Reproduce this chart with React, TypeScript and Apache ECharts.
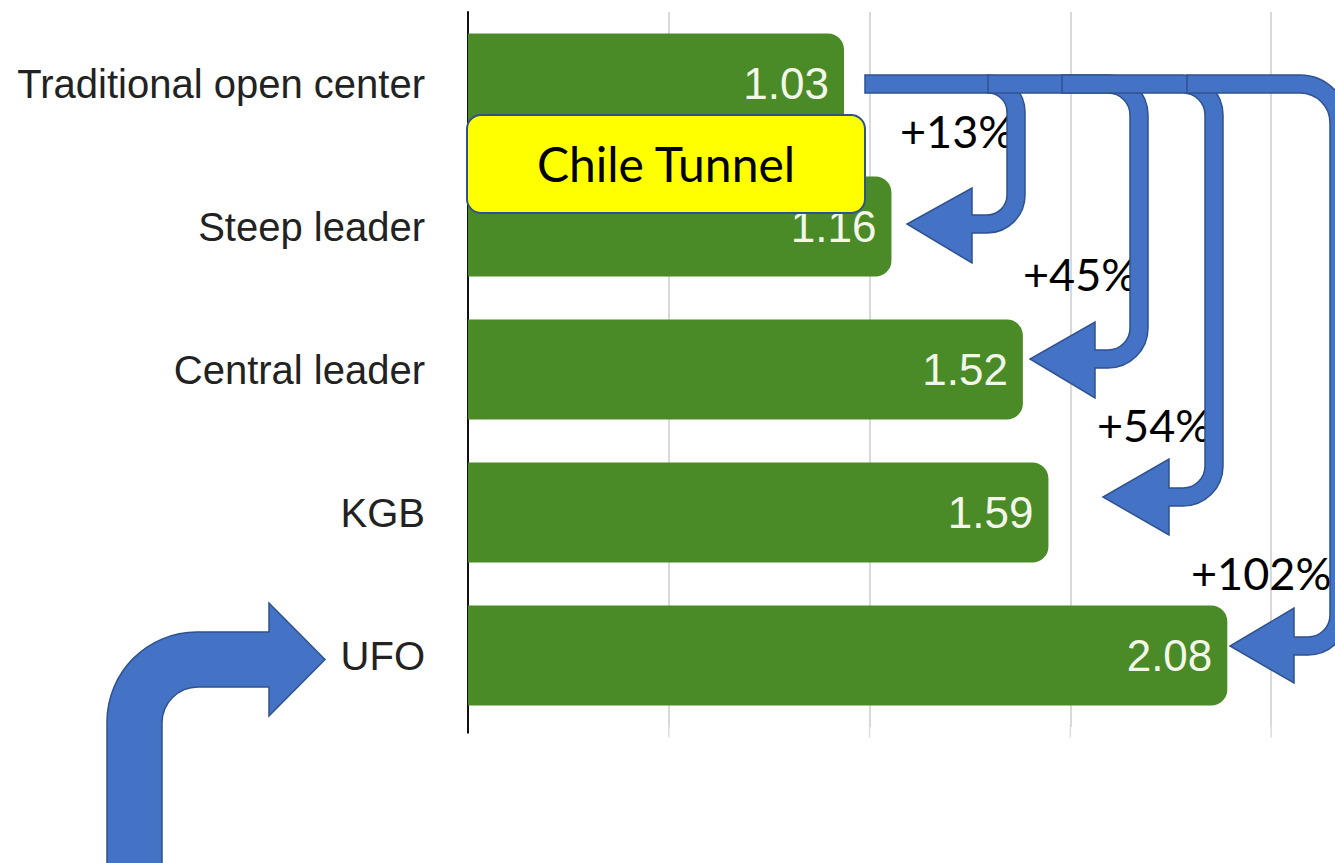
import React, { useEffect, useRef } from "react";
import * as echarts from "echarts";

// ---- data ----
const categories = ["Traditional open center", "Steep leader", "Central leader", "KGB", "UFO"];
const values = [1.03, 1.16, 1.52, 1.59, 2.08];
const changeLabels = ["+13%", "+45%", "+54%", "+102%"];
const calloutText = "Chile Tunnel";
const gridTicks = [0.55, 1.1, 1.65, 2.2];

// ---- annotation geometry (pixels) ----
const SHAFT = 18;
const TOP_Y = 75;
const uArrows = [
  { xs: 865, xo: 1025, Ro: 37, yb: 233, Rb: 38, hx: 972, hy1: 188, hy2: 263, tx: 907 },
  { xs: 988, xo: 1148, Ro: 40, yb: 368, Rb: 40, hx: 1095, hy1: 322, hy2: 398, tx: 1030 },
  { xs: 1062, xo: 1223, Ro: 40, yb: 506, Rb: 40, hx: 1169, hy1: 459, hy2: 535, tx: 1103 },
  { xs: 1187, xo: 1348, Ro: 48, yb: 655, Rb: 40, hx: 1294, hy1: 608, hy2: 683, tx: 1230 },
];
const textPos = [
  [900, 131],
  [1023, 274],
  [1097, 425],
  [1191, 573],
];

const K = 0.5523;
function corner(p0: number[], c: number[], p1: number[]) {
  return `C ${p0[0] + K * (c[0] - p0[0])} ${p0[1] + K * (c[1] - p0[1])} ${p1[0] + K * (c[0] - p1[0])} ${p1[1] + K * (c[1] - p1[1])} ${p1[0]} ${p1[1]}`;
}

function uArrowPath(a: any) {
  const { xs, xo, Ro, yb, Rb, hx, hy1, hy2, tx } = a;
  const t = SHAFT;
  const yT = TOP_Y;
  const xi = xo - t;
  const Ri = Ro - t;
  const Rbi = Rb - t;
  const ybi = yb - t;
  const ty = yb - t / 2;
  return [
    `M ${xs} ${yT}`,
    `L ${xo - Ro} ${yT}`,
    corner([xo - Ro, yT], [xo, yT], [xo, yT + Ro]),
    `L ${xo} ${yb - Rb}`,
    corner([xo, yb - Rb], [xo, yb], [xo - Rb, yb]),
    `L ${hx} ${yb}`,
    `L ${hx} ${hy2}`,
    `L ${tx} ${ty}`,
    `L ${hx} ${hy1}`,
    `L ${hx} ${ybi}`,
    `L ${xi - Rbi} ${ybi}`,
    corner([xi - Rbi, ybi], [xi, ybi], [xi, ybi - Rbi]),
    `L ${xi} ${yT + t + Ri}`,
    corner([xi, yT + t + Ri], [xi, yT + t], [xi - Ri, yT + t]),
    `L ${xs} ${yT + t}`,
    "Z",
  ].join(" ");
}

function bigArrowPath() {
  return [
    "M 107 870",
    "L 107 722",
    corner([107, 722], [107, 632], [197, 632]),
    "L 269 632",
    "L 269 603",
    "L 325 659.5",
    "L 269 716",
    "L 269 687",
    "L 198 687",
    corner([198, 687], [162, 687], [162, 723]),
    "L 162 870",
    "Z",
  ].join(" ");
}

const BLUE = "#4472c4";
const BLUE_EDGE = "#2f528f";
const ANNOT_FONT = "Lato, 'Noto Sans', sans-serif";

export default function App() {
  const ref = useRef<HTMLDivElement>(null);

  useEffect(() => {
    if (!ref.current) return;
    uArrows.forEach((a, i) => {
      echarts.graphic.registerShape("uarrow" + i, echarts.graphic.extendPath(uArrowPath(a), {}));
    });
    echarts.graphic.registerShape("bigarrow", echarts.graphic.extendPath(bigArrowPath(), {}));

    const chart = echarts.init(ref.current, undefined, { renderer: "svg" });

    const baseOption: any = {
      animation: false,
      backgroundColor: "#ffffff",
      grid: { left: 468, right: 0, top: 12, bottom: 136, outerBoundsMode: "none", containLabel: false },
      xAxis: {
        type: "value",
        min: 0,
        max: 2.375,
        interval: 0.55,
        axisLabel: { show: false },
        axisLine: { show: false },
        axisTick: { show: false },
        splitLine: { show: true, showMinLine: false, showMaxLine: false, lineStyle: { color: "#cccccc", width: 1.5 } },
      },
      yAxis: {
        type: "category",
        inverse: true,
        data: categories,
        axisLine: { show: true, lineStyle: { color: "#111111", width: 2 } },
        axisTick: { show: false },
        splitLine: { show: false },
        axisLabel: {
          fontSize: 40,
          color: "#222222",
          margin: 43,
          fontFamily: "'Liberation Sans', Arial, Helvetica, sans-serif",
        },
      },
      series: [
        {
          type: "bar",
          data: values,
          barCategoryGap: "30%",
          itemStyle: { color: "#4a8a27", borderRadius: [0, 16, 16, 0] },
          label: {
            show: true,
            position: "insideRight",
            distance: 15,
            color: "#f3f7ea",
            fontSize: 44,
            fontFamily: "'Liberation Sans', Arial, Helvetica, sans-serif",
            formatter: (p: any) => p.value.toFixed(2),
          },
        },
      ],
    };
    chart.setOption(baseOption);

    // small extensions of axis line and grid lines below the plot, as in the reference
    const bottomPx = chart.convertToPixel({ gridIndex: 0 }, [0, categories.length - 1])[1] + 72;
    const graphics: any[] = [];
    const x0 = chart.convertToPixel({ gridIndex: 0 }, [0, 0])[0];
    graphics.push({
      type: "line",
      z: 50,
      shape: { x1: x0, y1: bottomPx - 2, x2: x0, y2: bottomPx + 6 },
      style: { stroke: "#111111", lineWidth: 2 },
    });
    gridTicks.forEach((v) => {
      const px = chart.convertToPixel({ gridIndex: 0 }, [v, 0])[0];
      graphics.push({
        type: "line",
        z: 50,
        shape: { x1: px, y1: bottomPx - 2, x2: px, y2: bottomPx + 10 },
        style: { stroke: "#dddddd", lineWidth: 1.5 },
      });
    });

    changeLabels.forEach((txt, i) => {
      graphics.push({
        type: "text",
        z: 100,
        style: {
          text: txt,
          x: textPos[i][0],
          y: textPos[i][1],
          fontSize: 45,
          fontWeight: 400,
          fontFamily: ANNOT_FONT,
          fill: "#000",
          textAlign: "left",
          verticalAlign: "middle",
          textVerticalAlign: "middle",
        },
      });
    });
    uArrows.forEach((_, i) => {
      graphics.push({
        type: "uarrow" + i,
        x: 0,
        y: 0,
        z: 101 + i,
        style: { fill: BLUE, stroke: BLUE_EDGE, lineWidth: 1.5 },
      });
    });
    graphics.push({
      type: "bigarrow",
      x: 0,
      y: 0,
      z: 110,
      style: { fill: BLUE, stroke: BLUE_EDGE, lineWidth: 1.5 },
    });
    graphics.push({
      type: "rect",
      z: 120,
      shape: { x: 467, y: 115, width: 398, height: 98, r: 14 },
      style: { fill: "#ffff00", stroke: BLUE_EDGE, lineWidth: 2 },
    });
    graphics.push({
      type: "text",
      z: 121,
      style: {
        text: calloutText,
        x: 666,
        y: 163,
        fontSize: 48,
        fontWeight: 400,
        fontFamily: ANNOT_FONT,
        fill: "#000",
        textAlign: "center",
        verticalAlign: "middle",
        textVerticalAlign: "middle",
      },
    });

    chart.setOption({ graphic: { elements: graphics } });

    return () => chart.dispose();
  }, []);

  return (
    <div
      ref={ref}
      style={{ position: "fixed", left: 0, top: 0, width: 1335, height: 863, background: "#fff" }}
    />
  );
}
